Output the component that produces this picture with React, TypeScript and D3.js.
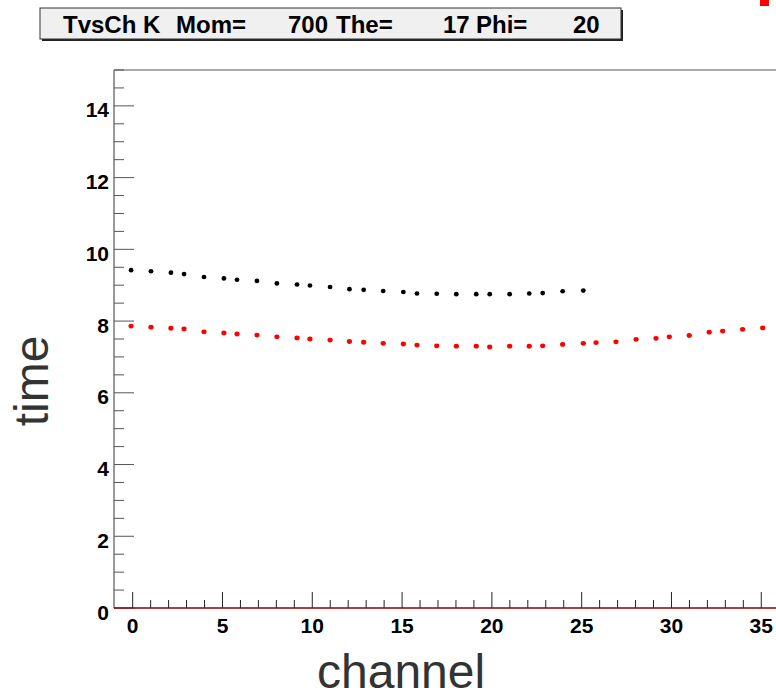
import React from "react";
import * as d3 from "d3";

// Channel positions of the measured points (shared by both series)
const channels: number[] = [
  -0.09, 1.02, 2.13, 2.86, 3.97, 5.08, 5.81, 6.92, 8.03, 9.15, 9.87, 10.99,
  12.07, 12.86, 13.95, 15.07, 15.83, 16.93, 18.02, 19.13, 19.88, 20.99, 22.08,
  22.83, 23.94, 25.09, 25.8, 26.91, 28.03, 29.14, 29.88, 30.99, 32.1, 32.85,
  33.96, 35.08,
];

// Black series: time per channel
const timeBlack: number[] = [
  9.42, 9.39, 9.35, 9.31, 9.23, 9.19, 9.15, 9.12, 9.05, 9.02, 8.99, 8.95, 8.89,
  8.87, 8.84, 8.81, 8.77, 8.76, 8.75, 8.75, 8.75, 8.75, 8.77, 8.78, 8.83, 8.85,
];

// Red series: time per channel
const timeRed: number[] = [
  7.86, 7.83, 7.8, 7.78, 7.7, 7.67, 7.64, 7.61, 7.56, 7.53, 7.5, 7.47, 7.43,
  7.41, 7.38, 7.36, 7.33, 7.31, 7.3, 7.3, 7.28, 7.3, 7.3, 7.31, 7.35, 7.38, 7.4,
  7.42, 7.49, 7.52, 7.56, 7.6, 7.69, 7.72, 7.77, 7.81,
];

const xTickLabels: number[] = [0, 5, 10, 15, 20, 25, 30, 35];
const yTickLabels: number[] = [0, 2, 4, 6, 8, 10, 12, 14];

const titleParts: { text: string; x: number }[] = [
  { text: "TvsCh K", x: 63 },
  { text: "Mom=", x: 176 },
  { text: "700", x: 288 },
  { text: "The=", x: 336 },
  { text: "17", x: 443 },
  { text: "Phi=", x: 476 },
  { text: "20", x: 573 },
];

const W = 776;
const H = 693;
const left = 114;
const top = 70;
const bottom = 608;
const pxPerChannel = 17.96;

export default function App() {
  const x = d3
    .scaleLinear()
    .domain([-1.04, 37.5])
    .range([left, left + (37.5 + 1.04) * pxPerChannel]);
  const y = d3.scaleLinear().domain([0, 15]).range([bottom, top]);

  const axisGray = "#555";
  const labelFont = "'Liberation Sans', Arial, Helvetica, sans-serif";

  const yMinor = d3.range(0, 15.01, 0.5);
  const xMinor = d3.range(0, 37, 1);

  const points = (vals: number[]) =>
    vals.map((v, i) => ({ cx: x(channels[i]), cy: y(v) }));

  return (
    <svg
      width={W}
      height={H}
      style={{ position: "absolute", left: 0, top: 0, background: "#fff" }}
    >
      <rect x={0} y={0} width={W} height={H} fill="#fff" />

      {/* title box with shadow */}
      <rect x={42} y={10} width={581} height={31} fill="#222" />
      <rect x={40} y={8} width={581} height={31} fill="#f0f0f0" stroke="#333" strokeWidth={1} />
      {titleParts.map((p) => (
        <text
          key={p.text}
          x={p.x}
          y={33}
          fontFamily={labelFont}
          fontWeight="bold"
          fontSize={24}
          fill="#000"
        >
          {p.text}
        </text>
      ))}

      {/* corner marker */}
      <rect x={760} y={0} width={9} height={6} fill="#ff0000" />

      {/* frame */}
      <line x1={left} x2={W} y1={top} y2={top} stroke={axisGray} strokeWidth={1} />
      <line x1={left} x2={left} y1={top} y2={bottom} stroke={axisGray} strokeWidth={1.2} />

      {/* y ticks */}
      {yMinor.map((v) => {
        const major = Math.abs(v % 2) < 1e-6;
        return (
          <line
            key={"yt" + v}
            x1={left}
            x2={left + (major ? 20 : 10)}
            y1={y(v)}
            y2={y(v)}
            stroke={axisGray}
            strokeWidth={1}
          />
        );
      })}
      {yTickLabels.map((v) => (
        <text
          key={"yl" + v}
          x={109}
          y={y(v) + 11.5}
          textAnchor="end"
          fontFamily={labelFont}
          fontWeight="bold"
          fontSize={21}
          fill="#000"
        >
          {v}
        </text>
      ))}

      {/* x ticks */}
      {xMinor.map((v) => {
        const major = v % 5 === 0;
        return (
          <line
            key={"xt" + v}
            x1={x(v)}
            x2={x(v)}
            y1={bottom}
            y2={bottom - (major ? 16 : 8)}
            stroke="#222"
            strokeWidth={1}
          />
        );
      })}
      {xTickLabels.map((v) => (
        <text
          key={"xl" + v}
          x={x(v)}
          y={633}
          textAnchor="middle"
          fontFamily={labelFont}
          fontWeight="bold"
          fontSize={21}
          fill="#000"
        >
          {v}
        </text>
      ))}

      {/* baseline at zero */}
      <line x1={left} x2={W} y1={bottom} y2={bottom} stroke="#8b0000" strokeWidth={1.5} />

      {/* axis titles */}
      <text
        x={317}
        y={688}
        fontFamily={labelFont}
        fontSize={48}
        fill="#333"
      >
        channel
      </text>
      <text
        transform={`translate(48,${(top + bottom) / 2 + 42}) rotate(-90)`}
        textAnchor="middle"
        fontFamily={labelFont}
        fontSize={48}
        fill="#333"
      >
        time
      </text>

      {/* data */}
      {points(timeBlack).map((p, i) => (
        <ellipse key={"b" + i} cx={p.cx} cy={p.cy} rx={2.4} ry={2.3} fill="#000" />
      ))}
      {points(timeRed).map((p, i) => (
        <ellipse key={"r" + i} cx={p.cx} cy={p.cy} rx={2.6} ry={2.4} fill="#ff0000" />
      ))}
    </svg>
  );
}
